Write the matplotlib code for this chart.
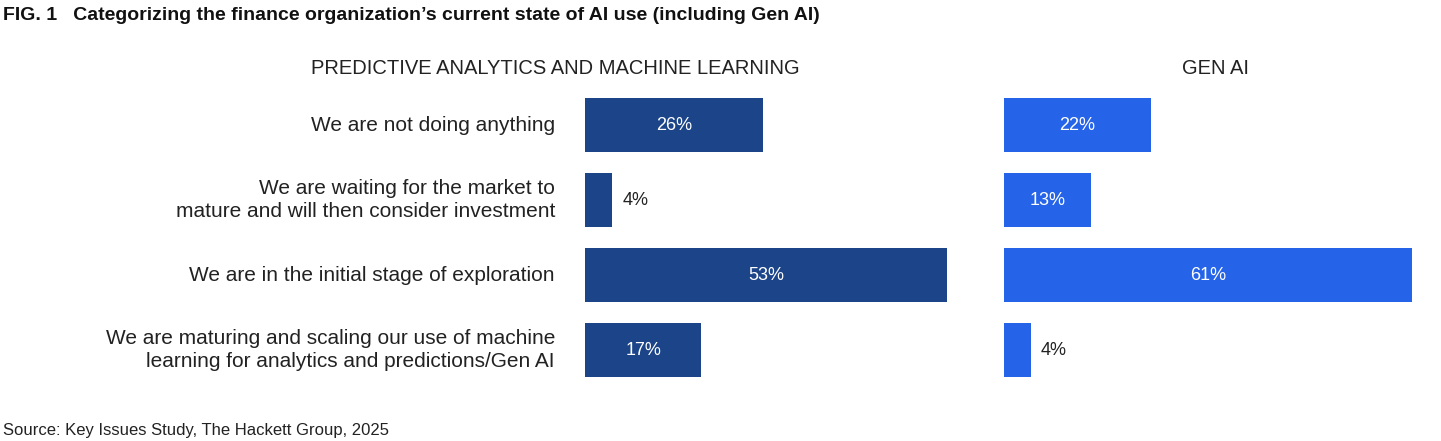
import matplotlib

matplotlib.use("Agg")
import matplotlib.pyplot as plt

plt.rcParams["font.family"] = ["Liberation Sans", "DejaVu Sans"]

categories = [
    "We are not doing anything",
    "We are waiting for the market to\nmature and will then consider investment",
    "We are in the initial stage of exploration",
    "We are maturing and scaling our use of machine\nlearning for analytics and predictions/Gen AI",
]
ml_values = [26, 4, 53, 17]
gen_values = [22, 13, 61, 4]

DARK = "#1b4489"
BRIGHT = "#2563e8"

W, H = 1441, 441
fig = plt.figure(figsize=(W / 100, H / 100), dpi=100)

bottom = 1 - 380 / H
height = 285 / H
ax1 = fig.add_axes([585 / W, bottom, 400 / W, height])
ax2 = fig.add_axes([1004 / W, bottom, 420 / W, height])


def draw(ax, values, color, xmax):
    ys = list(range(len(values)))
    ax.barh(ys, values, height=0.72, color=color)
    ax.set_xlim(0, xmax)
    ax.set_ylim(3.4, -0.4)
    ax.set_axis_off()
    for y, v in zip(ys, values):
        if v >= 10:
            ax.text(v / 2, y, f"{v}%", ha="center", va="center", color="white", fontsize=13)
        else:
            ax.text(v + 1.5, y, f"{v}%", ha="left", va="center", color="#222222", fontsize=13)


draw(ax1, ml_values, DARK, 58.5)
draw(ax2, gen_values, BRIGHT, 62.8)

for y, label in enumerate(categories):
    ax1.text(-4.4, y, label, ha="right", va="center", fontsize=15, color="#222222",
             linespacing=1.3)

fig.text(555 / W, 1 - 68 / H, "PREDICTIVE ANALYTICS AND MACHINE LEARNING", ha="center",
         va="center", fontsize=14.5, color="#222222")
fig.text(1215 / W, 1 - 68 / H, "GEN AI", ha="center", va="center", fontsize=14.5,
         color="#222222")
fig.text(3 / W, 1 - 16 / H, "FIG. 1   Categorizing the finance organization\u2019s current state of AI use (including Gen AI)",
         ha="left", va="center", fontsize=14, fontweight="bold", color="#111111")
fig.text(3 / W, 1 - 430 / H, "Source: Key Issues Study, The Hackett Group, 2025", ha="left",
         va="center", fontsize=12, color="#222222")

fig.savefig("out.png", dpi=100, facecolor="white")
